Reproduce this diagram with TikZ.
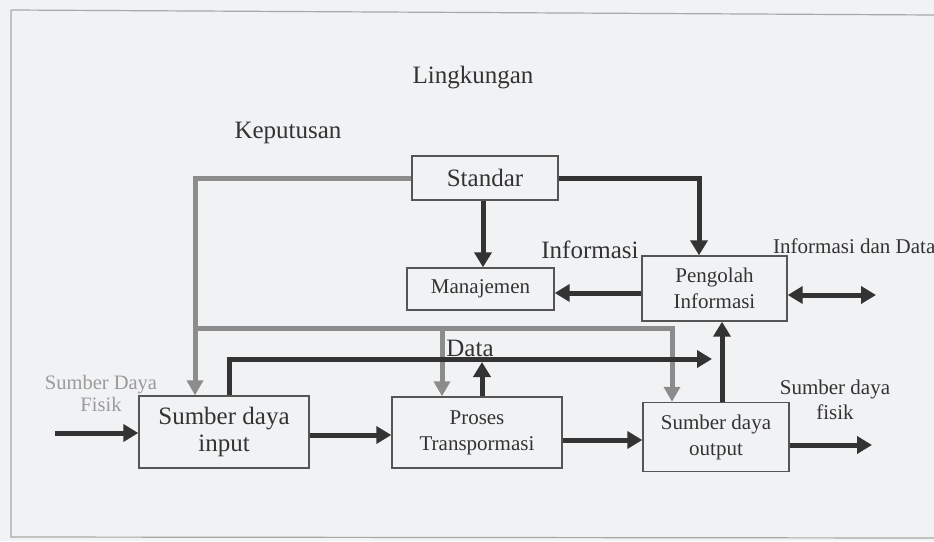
\documentclass[tikz,border=0pt]{standalone}
\usepackage{fontspec}
\setmainfont{Liberation Serif}
\usetikzlibrary{arrows.meta}
\definecolor{paper}{HTML}{F1F2F4}
\definecolor{ink}{HTML}{333333}
\definecolor{boxline}{HTML}{555555}
\definecolor{grayline}{HTML}{8C8C8C}
\definecolor{softink}{HTML}{9A9A9A}
\definecolor{framecol}{HTML}{A8A8A8}
\begin{document}
\begin{tikzpicture}[x=1pt,y=-1pt,
  big/.style={font=\fontsize{25}{27}\selectfont, text=ink, inner sep=0pt, align=center},
  small/.style={font=\fontsize{21}{26}\selectfont, text=ink, inner sep=0pt, align=center},
  box/.style={draw=boxline, line width=1.4pt, inner sep=0pt, align=center},
  darrow/.style={draw=ink, line width=5pt, -{Triangle[length=15pt,width=17pt]}},
  dboth/.style={draw=ink, line width=5pt, {Triangle[length=15pt,width=17pt]}-{Triangle[length=15pt,width=17pt]}},
  garrow/.style={draw=grayline, line width=5pt, -{Triangle[length=15pt,width=16pt]}},
  frame/.style={draw=framecol, line width=1.2pt}]
% page
\fill[paper] (0,0) rectangle (934,541);
\useasboundingbox (0,0) rectangle (934,541);
\draw[frame] (11,10) -- (934,15);
\draw[frame] (11,10) -- (11,537) -- (934,538);

% blocks
\node[box,big,minimum width=146pt,minimum height=44pt] (std) at (485,178) {Standar};
\node[box,small,minimum width=147pt,minimum height=42pt] (man) at (480.5,289) {Manajemen};
\node[box,small,minimum width=145pt,minimum height=65pt] (peng) at (714.5,288.5) {Pengolah\\Informasi};
\node[box,big,minimum width=170pt,minimum height=72pt] (inp) at (224,432) {Sumber daya\\input};
\node[box,small,minimum width=170pt,minimum height=71pt] (pro) at (477,432.5) {Proses\\Transpormasi};
\node[box,small,minimum width=146pt,minimum height=69pt] (out) at (716,437) {Sumber daya\\output};

% labels
\node[big] (lk) at (473,78) {Lingkungan};
\node[big] (kp) at (288,133) {Keputusan};
\node[big] (inf) at (590,250) {Informasi};
\node[big] (dt) at (470,348) {Data};
\node[small,anchor=west] (ind) at (773,246) {Informasi dan Data};
\node[font=\fontsize{20.5}{22}\selectfont, text=softink, align=center, inner sep=0pt] (sdf) at (101,393) {Sumber Daya\\Fisik};
\node[small,font=\fontsize{21}{25}\selectfont] (sdo) at (835,400) {Sumber daya\\fisik};

% guide coordinates
\coordinate (gx) at (195,0);
\coordinate (j1) at (195,328);
\coordinate (j2) at (672,328);
\coordinate (j3) at (442,328);
\coordinate (px) at (699,0);
\coordinate (mx) at (483,0);
\coordinate (dx) at (229,0);
\coordinate (dend) at (712,359);
\coordinate (ux) at (482,0);
\coordinate (ujoin) at (482,362);
\coordinate (ox) at (722,0);
\coordinate (src) at (55,433);
\coordinate (sink) at (872,445);
\coordinate (ioend) at (876,295);

% decision lines (gray)
\draw[garrow] (std.west) -| (inp.north -| gx);
\draw[garrow] (j1) -- (j2) -- (out.north -| j2);
\draw[garrow] (j3) -- (pro.north -| j3);

% information lines (dark)
\draw[darrow] (std.east) -| (peng.north -| px);
\draw[darrow] (std.south -| mx) -- (man.north -| mx);
\draw[darrow] (peng.west |- 0,293) -- (man.east |- 0,293);
\draw[dboth] (peng.east |- ioend) -- (ioend);

% data lines
\draw[darrow] (inp.north -| dx) |- (dend);
\draw[darrow] (pro.north -| ux) -- (ujoin);
\draw[darrow] (out.north -| ox) -- (peng.south -| ox);

% physical flow
\draw[darrow] (src) -- (inp.west |- src);
\draw[darrow] (inp.east |- 0,435) -- (pro.west |- 0,435);
\draw[darrow] (pro.east |- 0,440) -- (out.west |- 0,440);
\draw[darrow] (out.east |- sink) -- (sink);
\end{tikzpicture}
\end{document}
